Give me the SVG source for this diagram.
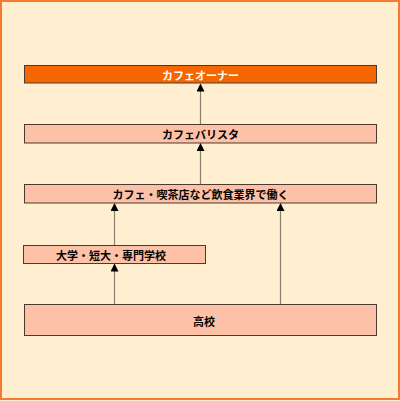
<svg xmlns="http://www.w3.org/2000/svg" width="400" height="401" viewBox="0 0 400 401">
<defs>
<style>
.box{fill:#FCC1A6;stroke:#4A3A30;stroke-width:1}
.top{fill:#F56600;stroke:#4A3A30;stroke-width:1}
.lbl{font-family:"Noto Sans CJK JP","Noto Sans CJK SC",sans-serif;font-size:11px;font-weight:bold;fill:#000;text-anchor:middle;dominant-baseline:central}
.wl{fill:#fff}
.conn{stroke:#8A8070;stroke-width:1.2;fill:none;marker-end:url(#ah)}
</style>
<marker id="ah" markerWidth="8" markerHeight="9" refX="7.5" refY="4" orient="auto" markerUnits="userSpaceOnUse">
<path d="M0,0 L8,4 L0,8 Z" fill="#000"/>
</marker>
</defs>
<rect x="0" y="0" width="400" height="401" fill="#FFEED0"/>
<rect x="1" y="1" width="398" height="398" fill="#FFEED0" stroke="#F47A30" stroke-width="2"/>
<g id="connectors">
<line class="conn" x1="200.5" y1="124" x2="200.5" y2="84"/>
<line class="conn" x1="200.5" y1="184" x2="200.5" y2="143.5"/>
<line class="conn" x1="114.5" y1="245" x2="114.5" y2="203.5"/>
<line class="conn" x1="280.5" y1="304" x2="280.5" y2="203.5"/>
<line class="conn" x1="114.5" y1="304" x2="114.5" y2="264"/>
</g>
<g id="owner">
<rect class="top" x="24.5" y="65.5" width="352" height="17.5"/>
<text class="lbl wl" x="200.5" y="74.5">カフェオーナー</text>
</g>
<g id="barista">
<rect class="box" x="24.5" y="124.5" width="352" height="18.5"/>
<text class="lbl" x="200.5" y="134">カフェバリスタ</text>
</g>
<g id="work">
<rect class="box" x="24.5" y="184.5" width="352" height="18.5"/>
<text class="lbl" x="200.5" y="194">カフェ・喫茶店など飲食業界で働く</text>
</g>
<g id="school">
<rect class="box" x="23.5" y="245.5" width="182" height="18"/>
<text class="lbl" x="111" y="255">大学・短大・専門学校</text>
</g>
<g id="highschool">
<rect class="box" x="24.5" y="304.5" width="352" height="31"/>
<text class="lbl" x="204" y="321">高校</text>
</g>
</svg>
